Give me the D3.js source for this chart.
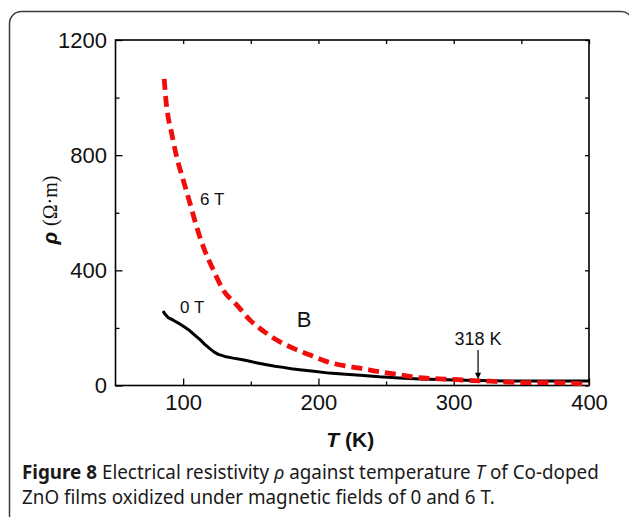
<!DOCTYPE html>
<html>
<head>
<meta charset="utf-8">
<script src="https://cdn.jsdelivr.net/npm/d3@7/dist/d3.min.js"></script>
<style>
    body { margin: 0; background: #fff; }
    svg { display: block; }
</style>
</head>
<body>
<div id="chart"></div>
<script>
// Data (T in K, rho in Ohm m)
const temp0T = [85.2, 86.5, 88.9, 93, 97.5, 101, 105, 109, 112.3, 116, 119.7, 123, 126, 130.8, 137, 143,
    149.3, 155, 161.7, 168, 174, 180, 186, 195, 208, 220, 231, 245, 260, 275, 290, 300, 318, 340, 360, 380, 400]
const rho0T = [259, 248, 236, 226, 214, 203, 190, 173, 160, 143, 128, 116, 108, 101, 95, 90,
    84, 78, 72, 67, 63, 58, 55, 50, 43, 39, 36, 30, 26, 23, 21, 19, 17, 16, 16, 16, 16]

const temp6T = [86, 87.3, 89, 91, 95.2, 100.1, 105.1, 110, 114.9, 122.3, 129.7, 139.6, 149.4, 156.8, 169.2,
    181.5, 193.8, 206.2, 219.7, 230.8, 245, 260, 272.7, 285, 299.8, 314.6, 327, 339, 354, 367.6, 381, 395.7, 400]
const rho6T = [1065, 990, 930, 887, 794, 713, 632, 551, 482, 401, 331, 280, 227, 198, 158,
    129, 106, 83, 68, 60, 48, 37, 28, 24, 21, 17, 15, 12, 10, 10, 9, 6, 5]

const xTicks = [100, 200, 300, 400]
const xMinorTicks = [150, 250, 350]
const yTicks = [0, 400, 800, 1200]
const yMinorTicks = [200, 600, 1000]
const xDomain = [50, 400]
const yDomain = [0, 1200]

const curveLabels = [
    {text: '6 T', t: 112.5, rho: 626},
    {text: '0 T', t: 97.7, rho: 252}
]
const markT = 318   // arrow "318 K"

// Constants - canvas and plot area
const width = 629
const height = 517
const margin = {top: 40, right: 40, bottom: 131.5, left: 115.5}
const graphWidth = width - margin.left - margin.right
const graphHeight = height - margin.top - margin.bottom

const font = 'Liberation Sans, Arial, Helvetica, sans-serif'

const svg = d3.select('#chart')
    .append('svg')
    .attr('width', width)
    .attr('height', height)

svg.append('rect')
    .attr('width', width)
    .attr('height', height)
    .attr('fill', '#fff')

// rounded frame around the figure
svg.append('rect')
    .attr('x', 9.5)
    .attr('y', 11.5)
    .attr('width', 623.5)
    .attr('height', 516)
    .attr('rx', 12)
    .attr('fill', 'none')
    .attr('stroke', '#3a3a3a')
    .attr('stroke-width', 1.5)

const g = svg.append('g')
    .attr('transform', `translate(${margin.left}, ${margin.top})`)

// Scales
const x = d3.scaleLinear().domain(xDomain).range([0, graphWidth])
const y = d3.scaleLinear().domain(yDomain).range([graphHeight, 0])

// Axes - ticks point inwards on all four sides
function styleAxis(sel) {
    sel.select('.domain').remove()
    sel.selectAll('.tick line').attr('stroke', '#000').attr('stroke-width', 1.3)
    sel.selectAll('text')
        .attr('fill', '#111')
        .style('font-family', font)
        .style('font-size', '22px')
}

g.append('g')
    .attr('transform', `translate(0, ${graphHeight})`)
    .call(d3.axisBottom(x).tickValues(xTicks).tickFormat(d3.format('d'))
        .tickSizeInner(-7).tickSizeOuter(0).tickPadding(9))
    .call(styleAxis)
g.append('g')
    .attr('transform', `translate(0, ${graphHeight})`)
    .call(d3.axisBottom(x).tickValues(xMinorTicks).tickSize(-4).tickFormat(''))
    .call(styleAxis)
g.append('g')
    .call(d3.axisTop(x).tickValues(xTicks.concat(xMinorTicks)).tickSize(-4).tickFormat(''))
    .call(styleAxis)

g.append('g')
    .call(d3.axisLeft(y).tickValues(yTicks).tickFormat(d3.format('d'))
        .tickSizeInner(-7).tickSizeOuter(0).tickPadding(8.5))
    .call(styleAxis)
g.append('g')
    .call(d3.axisLeft(y).tickValues(yMinorTicks).tickSize(-4).tickFormat(''))
    .call(styleAxis)
g.append('g')
    .attr('transform', `translate(${graphWidth}, 0)`)
    .call(d3.axisRight(y).tickValues(yTicks.concat(yMinorTicks)).tickSize(-4).tickFormat(''))
    .call(styleAxis)

// plot frame
g.append('rect')
    .attr('width', graphWidth)
    .attr('height', graphHeight)
    .attr('fill', 'none')
    .attr('stroke', '#000')
    .attr('stroke-width', 1.6)

// Lines
const data0T = temp0T.map((t, i) => [t, rho0T[i]])
const data6T = temp6T.map((t, i) => [t, rho6T[i]])

const line = d3.line()
    .x(d => x(d[0]))
    .y(d => y(d[1]))

g.append('path')
    .datum(data0T)
    .attr('d', line)
    .attr('fill', 'none')
    .attr('stroke', '#000')
    .attr('stroke-width', 3)
    .attr('stroke-linejoin', 'round')

g.append('path')
    .datum(data6T)
    .attr('d', line.curve(d3.curveMonotoneX))
    .attr('fill', 'none')
    .attr('stroke', '#f20d0d')
    .attr('stroke-width', 4.8)
    .attr('stroke-dasharray', '11 6')

// Curve labels
g.selectAll('.curve-label')
    .data(curveLabels)
    .enter()
    .append('text')
    .attr('class', 'curve-label')
    .attr('x', d => x(d.t))
    .attr('y', d => y(d.rho))
    .style('font-family', font)
    .style('font-size', '17px')
    .attr('fill', '#111')
    .text(d => d.text)

g.append('text')
    .attr('x', x(184))
    .attr('y', y(203))
    .style('font-family', font)
    .style('font-size', '22px')
    .attr('fill', '#111')
    .text('B')

// 318 K arrow
g.append('text')
    .attr('x', x(markT))
    .attr('y', y(140))
    .attr('text-anchor', 'middle')
    .style('font-family', font)
    .style('font-size', '18px')
    .attr('fill', '#111')
    .text(`${markT} K`)

g.append('line')
    .attr('x1', x(markT))
    .attr('x2', x(markT))
    .attr('y1', y(123))
    .attr('y2', y(40))
    .attr('stroke', '#000')
    .attr('stroke-width', 1.2)
g.append('path')
    .attr('d', `M${x(markT) - 3},${y(44)} L${x(markT) + 3},${y(44)} L${x(markT)},${y(22)} Z`)
    .attr('fill', '#000')

// Axis titles
const xTitle = svg.append('text')
    .attr('x', margin.left + graphWidth * 0.5 - 2)
    .attr('y', 447)
    .attr('text-anchor', 'middle')
    .style('font-family', font)
    .style('font-size', '21px')
    .style('font-weight', 'bold')
    .attr('fill', '#111')
xTitle.append('tspan').style('font-style', 'italic').text('T')
xTitle.append('tspan').text(' (K)')

const yTitle = svg.append('text')
    .attr('transform', 'translate(57, 210) rotate(-90)')
    .attr('text-anchor', 'middle')
    .attr('fill', '#111')
yTitle.append('tspan')
    .style('font-family', font)
    .style('font-size', '21px')
    .style('font-weight', 'bold')
    .style('font-style', 'italic')
    .text('ρ ')
yTitle.append('tspan')
    .style('font-family', 'Liberation Serif, Times New Roman, serif')
    .style('font-size', '20px')
    .text('(Ω·m)')

// Caption - squeeze each line horizontally to the width of the original
const capFont = 'Noto Sans, Open Sans, sans-serif'
function captionLine(yPos, targetWidth) {
    return svg.append('text')
        .attr('x', 0)
        .attr('y', 0)
        .attr('data-y', yPos)
        .attr('data-w', targetWidth)
        .style('font-family', capFont)
        .style('font-size', '19px')
        .attr('fill', '#1a1a1a')
}
function fitCaption(sel) {
    const natural = sel.node().getComputedTextLength()
    const k = +sel.attr('data-w') / natural
    sel.attr('transform', `translate(22, ${sel.attr('data-y')}) scale(${k}, 1)`)
}

const cap1 = captionLine(479, 577)
cap1.append('tspan').style('font-weight', 'bold').text('Figure 8')
cap1.append('tspan').text(' Electrical resistivity ')
cap1.append('tspan').style('font-style', 'italic').text('ρ')
cap1.append('tspan').text(' against temperature ')
cap1.append('tspan').style('font-style', 'italic').text('T')
cap1.append('tspan').text(' of Co-doped')

const cap2 = captionLine(504, 473)
    .text('ZnO films oxidized under magnetic fields of 0 and 6 T.')

fitCaption(cap1)
fitCaption(cap2)
</script>
</body>
</html>
